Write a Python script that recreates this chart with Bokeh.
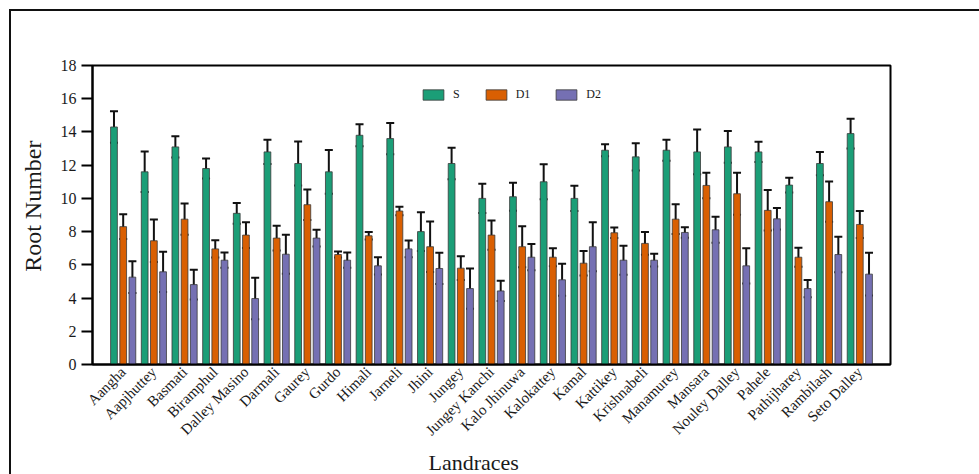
import numpy as np
from bokeh.plotting import figure
from bokeh.models import (Range1d, FixedTicker, Whisker, TeeHead, ColumnDataSource, Title)
from bokeh.embed import file_html
from bokeh.resources import INLINE

categories = ["Aangha", "Aapjhuttey", "Basmati", "Biramphul", "Dalley Masino", "Darmali",
              "Gaurey", "Gurdo", "Himali", "Jarneli", "Jhini", "Jungey", "Jungey Kanchi",
              "Kalo Jhinuwa", "Kalokattey", "Kamal", "Kattikey", "Krishnabeli", "Manamurey",
              "Mansara", "Nouley Dalley", "Pahele", "Pathijharey", "Rambilash", "Seto Dalley"]
S = [14.3, 11.6, 13.1, 11.8, 9.1, 12.8, 12.1, 11.6, 13.8, 13.6, 8.0, 12.1, 10.0,
     10.1, 11.0, 10.0, 12.9, 12.5, 12.9, 12.8, 13.1, 12.8, 10.8, 12.1, 13.9]
S_err = [0.95, 1.22, 0.64, 0.6, 0.62, 0.73, 1.33, 1.32, 0.66, 0.94, 1.17, 0.95, 0.88,
         0.84, 1.05, 0.76, 0.36, 0.82, 0.63, 1.35, 0.96, 0.61, 0.45, 0.7, 0.9]
D1 = [8.3, 7.45, 8.75, 6.96, 7.79, 7.61, 9.62, 6.62, 7.75, 9.24, 7.09, 5.8, 7.79,
      7.09, 6.46, 6.1, 7.93, 7.29, 8.75, 10.78, 10.28, 9.28, 6.46, 9.8, 8.43]
D1_err = [0.75, 1.28, 0.94, 0.52, 0.78, 0.74, 0.92, 0.18, 0.22, 0.26, 1.52, 0.72, 0.88,
          1.24, 0.54, 0.74, 0.32, 0.68, 0.9, 0.77, 1.27, 1.22, 0.57, 1.21, 0.81]
D2 = [5.26, 5.58, 4.81, 6.28, 3.97, 6.64, 7.61, 6.28, 5.94, 6.96, 5.78, 4.57, 4.43,
      6.46, 5.10, 7.09, 6.28, 6.28, 7.95, 8.11, 5.94, 8.77, 4.57, 6.62, 5.44]
D2_err = [0.96, 1.21, 0.9, 0.46, 1.25, 1.17, 0.5, 0.46, 0.52, 0.5, 0.94, 1.21, 0.61,
          0.79, 0.96, 1.48, 0.87, 0.38, 0.32, 0.78, 1.06, 0.65, 0.52, 1.07, 1.28]
series_names = ["S", "D1", "D2"]
colors = ["#1b9e77", "#d95f02", "#7570b3"]
y_ticks = [0, 2, 4, 6, 8, 10, 12, 14, 16, 18]

FONT = "Liberation Serif"
TXT = "#1a1a1a"

W, H = 979, 474
p = figure(width=W, height=H, output_backend="svg", toolbar_location=None,
           x_range=Range1d(0, len(categories) + 1), y_range=Range1d(0, 18),
           min_border_left=92, min_border_right=W - 890, min_border_top=65,
           min_border_bottom=H - 366)
p.background_fill_color = "white"
p.border_fill_color = "white"
p.border_fill_alpha = 0
p.outline_line_color = "black"
p.outline_line_width = 2
p.xgrid.visible = False
p.ygrid.visible = False
# outer frame line of the figure image (left and top edges), painted behind the canvas
p.styles = {
    "background-color": "white",
    "background-image": "linear-gradient(#111,#111), linear-gradient(#111,#111)",
    "background-size": "2px 100%, 100% 2px",
    "background-position": "9px 9px, 9px 9px",
    "background-repeat": "no-repeat, no-repeat",
}

xc = np.arange(1, len(categories) + 1)
offsets = [-0.3, 0.0, 0.3]
values = [S, D1, D2]
errs = [S_err, D1_err, D2_err]

for name, col, off, v in zip(series_names, colors, offsets, values):
    p.vbar(x=xc + off, top=v, width=0.22, fill_color=col, line_color="#3a3a3a",
           line_width=0.8, legend_label=name)
for off, v, e in zip(offsets, values, errs):
    v = np.array(v); e = np.array(e)
    src = ColumnDataSource(dict(base=xc + off, upper=v + e, lower=v - e))
    w = Whisker(base="base", upper="upper", lower="lower", source=src,
                line_color="#111111", line_width=2,
                upper_head=TeeHead(size=8, line_width=2, line_color="#111111"),
                lower_head=TeeHead(size=8, line_width=2, line_color="#111111"))
    p.add_layout(w)

# axes
yax = p.yaxis[0]
yax.ticker = FixedTicker(ticks=y_ticks)
yax.minor_tick_line_color = None
yax.major_tick_out = 11
yax.major_tick_in = 0
yax.major_tick_line_width = 2
yax.axis_line_width = 2
yax.major_label_standoff = 5
yax.major_label_text_font = FONT
yax.major_label_text_font_size = "16px"
yax.major_label_text_color = TXT

xax = p.xaxis[0]
xax.ticker = FixedTicker(ticks=list(xc))
xax.major_label_overrides = {int(i): c for i, c in zip(xc, categories)}
xax.major_label_orientation = np.pi / 4
xax.minor_tick_line_color = None
xax.major_tick_out = 0
xax.major_tick_in = 0
xax.axis_line_width = 2
xax.major_label_standoff = 5
xax.major_label_text_font = FONT
xax.major_label_text_font_size = "15px"
xax.major_label_text_color = TXT

# axis titles
p.add_layout(Title(text="Landraces", align="left", offset=336, standoff=0,
                   text_font=FONT, text_font_size="22px", text_font_style="normal",
                   text_color=TXT), "below")
p.add_layout(Title(text="Root Number", align="right", offset=75, standoff=24,
                   text_font=FONT, text_font_size="24px", text_font_style="normal",
                   text_color=TXT), "left")

# legend
lg = p.legend[0]
lg.orientation = "horizontal"
lg.location = (328, 262)
lg.glyph_width = 26
lg.glyph_height = 13
lg.label_height = 13
lg.label_width = 0
lg.label_standoff = 7
lg.spacing = 23
lg.padding = 0
lg.margin = 0
lg.border_line_color = None
lg.background_fill_alpha = 0
lg.label_text_font = FONT
lg.label_text_font_size = "12px"
lg.label_text_color = TXT

open("out.html", "w").write(file_html(p, INLINE))
